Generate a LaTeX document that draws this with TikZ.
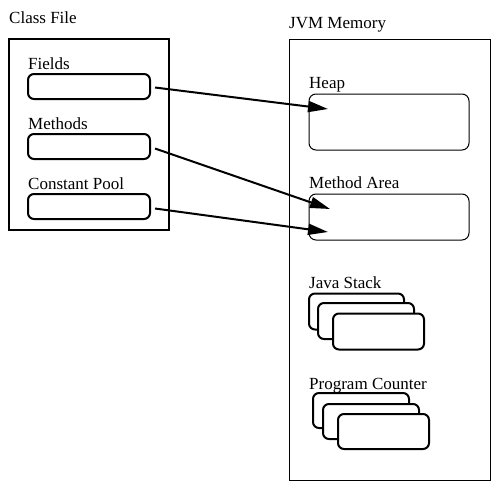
\documentclass[tikz,border=0pt]{standalone}
\usepackage{fontspec}
\setmainfont{Liberation Serif}
\usetikzlibrary{arrows.meta}

\tikzset{
	lbl/.style={anchor=base west, inner sep=0pt, font=\fontsize{17}{19}\selectfont},
	slot/.style={draw, line width=2pt, rounded corners=6pt, inner sep=0pt},
	area/.style={draw, line width=1pt, rounded corners=7pt, inner sep=0pt},
	link/.style={line width=2pt, -{Triangle[length=20pt,width=11pt]}}
}

\begin{document}
\begin{tikzpicture}[x=1pt,y=-1pt]
	\useasboundingbox (0,0) rectangle (501,501);
	
	% class file
	\node[lbl] (cftitle) at (9,23) {Class File};
	\draw[line width=2pt] (9,39) rectangle (169,230);
	
	\node[lbl] (fieldslbl) at (28,69) {Fields};
	\node[lbl] (methodslbl) at (28,129) {Methods};
	\node[lbl] (poollbl) at (28,189) {Constant Pool};
	\node[slot, minimum width=122pt, minimum height=25pt] (fields) at (89,86.5) {};
	\node[slot, minimum width=122pt, minimum height=25pt] (methods) at (89,146.5) {};
	\node[slot, minimum width=122pt, minimum height=25pt] (pool) at (89,206.5) {};
	
	% jvm memory
	\node[lbl] (jvmtitle) at (289,28) {JVM Memory};
	\draw[line width=1pt] (289,39) rectangle (490,480);
	
	\node[lbl] (heaplbl) at (309,88) {Heap};
	\node[lbl] (arealbl) at (309,188) {Method Area};
	\node[lbl] (stacklbl) at (309,288) {Java Stack};
	\node[lbl] (pclbl) at (309,389) {Program Counter};
	\node[area, minimum width=160pt, minimum height=56pt] (heap) at (389,122) {};
	\node[area, minimum width=160pt, minimum height=46pt] (area) at (389,217) {};
	
	\foreach \i/\x/\y/\w in {1/356.5/311.5/95, 2/366/321/96, 3/378.5/331.5/91}{
		\node[slot, fill=white, minimum width=\w pt, minimum height=36pt] (stack\i) at (\x,\y) {};
	}
	\foreach \i/\x/\y/\w in {1/361/410.5/96, 2/371/421.5/96, 3/383.5/431.5/91}{
		\node[slot, fill=white, minimum width=\w pt, minimum height=35pt] (pc\i) at (\x,\y) {};
	}
	
	\coordinate (heapin) at (328,109);
	\coordinate (areain1) at (330,209);
	\coordinate (areain2) at (328,232);
	
	\draw[link] ([xshift=4pt,yshift=-1pt]fields.east) -- (heapin);
	\draw[link] ([xshift=4pt,yshift=-2pt]methods.east) -- (areain1);
	\draw[link] ([xshift=4pt,yshift=-2pt]pool.east) -- (areain2);
	
\end{tikzpicture}
\end{document}
